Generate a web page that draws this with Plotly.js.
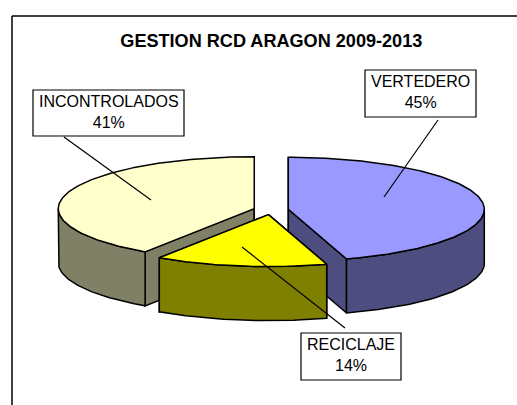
<!DOCTYPE html>
<html><head><meta charset="utf-8">
<script src="https://cdn.plot.ly/plotly-3.0.1.min.js"></script>
<style>html,body{margin:0;padding:0;background:#fff}#c{width:517px;height:405px}</style>
</head><body><div id="c"></div>
<script>
const categories = ['VERTEDERO','RECICLAJE','INCONTROLADOS'];
const values = [45.2,14.2,40.6];
const topColors = ['#9999FF','#FFFF00','#FFFFCC'];
const wallColors = ['#4D4D80','#808000','#808066'];
const drawOrder = [0,2,1];
const labelBoxes = [[365,476,70,117],[301,401,333,380],[33,184,90,136]];
const leaders = [[438,120,384,197],[345,328,242,247],[64,137,151,200]];

const cx=271, cy=210, rx=196, ry=52, depth=54, explode=17.5, ink='#000';
const total = values.reduce((a,b)=>a+b,0);
const angles=[]; let acc=0;
values.forEach(v=>{const s=acc*360/total; acc+=v; angles.push([s,acc*360/total]);});
const pt=(a,ox,oy,dz)=>{const r=a*Math.PI/180;return [ox+rx*Math.sin(r), oy-ry*Math.cos(r)+dz];};
const arc=(a,b,ox,oy,dz)=>{const n=Math.max(2,Math.ceil(Math.abs(b-a)));const o=[];for(let i=0;i<=n;i++)o.push(pt(a+(b-a)*i/n,ox,oy,dz));return o;};
const poly=(pts,fill,name)=>({type:'scatter',mode:'lines',x:pts.map(p=>p[0]).concat(pts[0][0]),y:pts.map(p=>p[1]).concat(pts[0][1]),
  fill:'toself',fillcolor:fill,line:{color:ink,width:1.5,shape:'linear'},hoverinfo:'text',text:name,showlegend:false});
const traces=[];
drawOrder.forEach(i=>{
  const [s,e]=angles[i], m=(s+e)/2*Math.PI/180;
  const ox=cx+explode*Math.sin(m), oy=cy-explode*(ry/rx)*Math.cos(m);
  const n=categories[i];
  [s,e].forEach(a=>{const p=pt(a,ox,oy,0);
    traces.push(poly([[ox,oy],p,[p[0],p[1]+depth],[ox,oy+depth]],wallColors[i],n));});
  const ws=Math.max(s,90), we=Math.min(e,270);
  if(we>ws){traces.push(poly(arc(ws,we,ox,oy,0).concat(arc(we,ws,ox,oy,depth)),wallColors[i],n));}
  traces.push(poly([[ox,oy]].concat(arc(s,e,ox,oy,0)),topColors[i],n));
});
const shapes=[
  {type:'line',xref:'x',yref:'y',x0:12,x1:517,y0:16,y1:16,line:{color:ink,width:1.5}},
  {type:'line',xref:'x',yref:'y',x0:12,x1:12,y0:16,y1:405,line:{color:ink,width:1.5}}
];
leaders.forEach(l=>shapes.push({type:'line',xref:'x',yref:'y',x0:l[0],y0:l[1],x1:l[2],y1:l[3],line:{color:ink,width:1.2}}));
labelBoxes.forEach(b=>shapes.push({type:'rect',xref:'x',yref:'y',x0:b[0],x1:b[1],y0:b[2],y1:b[3],fillcolor:'#fff',line:{color:ink,width:1.2}}));
const annotations=categories.map((c,i)=>{const b=labelBoxes[i];return {
  xref:'x',yref:'y',x:(b[0]+b[1])/2,y:(b[2]+b[3])/2,yshift:1.5,xanchor:'center',yanchor:'middle',showarrow:false,
  text:c+'<br>'+Math.round(values[i]/total*100)+'%',
  font:{family:'Liberation Sans, Arial',size:16,color:'#000'}};});
Plotly.newPlot('c',traces,{
  width:517,height:405,margin:{l:0,r:0,t:0,b:0},paper_bgcolor:'#fff',plot_bgcolor:'#fff',showlegend:false,
  title:{text:'<b>GESTION RCD ARAGON 2009-2013</b>',font:{family:'Liberation Sans, Arial',size:18.1,color:'#000'},x:0.5248,xanchor:'center',y:0.9,yanchor:'middle'},
  xaxis:{range:[0,517],visible:false,fixedrange:true},
  yaxis:{range:[405,0],visible:false,fixedrange:true},
  shapes,annotations
},{displayModeBar:false,staticPlot:true});
</script></body></html>
